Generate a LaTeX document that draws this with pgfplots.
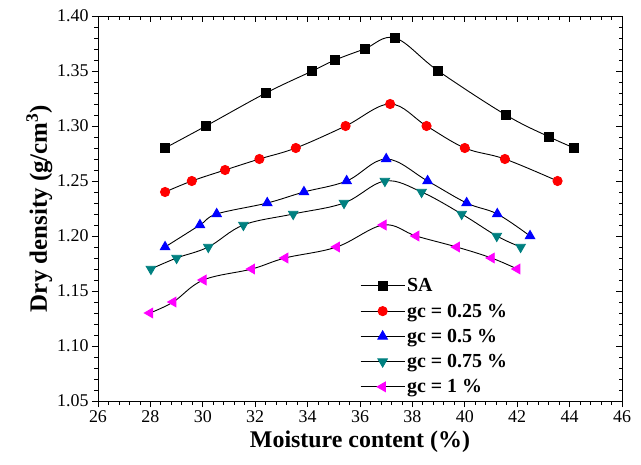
\documentclass[border=0pt]{standalone}
\usepackage{fontspec}
\setmainfont{Liberation Serif}
\usepackage{pgfplots}
\pgfplotsset{compat=1.18}

\definecolor{cteal}{RGB}{0,128,128}
\definecolor{cmag}{RGB}{255,0,255}

\pgfplotsset{
  frame/.style={
    width=524bp, height=385bp, scale only axis,
    xmin=26, xmax=46, ymin=1.05, ymax=1.40,
    xtick={26,28,...,46}, ytick={1.05,1.10,...,1.41},
    minor x tick num=4, minor y tick num=4,
    major tick length=6bp, minor tick length=3.5bp,
    axis line style={line width=0.9bp},
    every tick/.style={line width=0.8bp, black},
  },
}

\begin{document}
\begin{tikzpicture}
\useasboundingbox (-98bp,-64bp) rectangle (543bp,401bp);

% top/right ticks point inward, no labels
\begin{axis}[frame, tick align=inside,
  xtick pos=right, ytick pos=right,
  xticklabels={}, yticklabels={}]
\end{axis}

\begin{axis}[frame, tick align=outside,
  xtick pos=left, ytick pos=left,
  /pgf/number format/assume math mode=true,
  yticklabel style={/pgf/number format/.cd, fixed, fixed zerofill, precision=2},
  ticklabel style={font=\fontsize{18}{18}\selectfont},
  xlabel={\textbf{Moisture content (\%)}},
  ylabel={\textbf{Dry density (g/cm$^{\mathbf{3}}$)}},
  xlabel style={font=\fontsize{24}{24}\selectfont, yshift=-1bp},
  ylabel style={font=\fontsize{25}{25}\selectfont, yshift=-2bp},
  legend style={draw=none, fill=none, at={(0.5,0.012)}, anchor=south west,
    font=\bfseries\fontsize{20}{20}\selectfont, row sep=6.5bp,
    inner sep=0pt},
  legend cell align=left,
  legend image code/.code={
    \draw[black, line width=0.9bp] (0bp,0bp) -- (44bp,0bp);
    \draw plot[#1] coordinates {(22bp,0bp)};
  },
  every axis plot/.append style={black, line width=0.9bp, smooth, tension=0.6},
]

\addplot[mark=square*, mark size=4.5bp, mark options={draw=black, fill=black}] coordinates {
  (28.56,1.28) (30.12,1.30) (32.41,1.33) (34.18,1.35) (35.05,1.36)
  (36.17,1.37) (37.34,1.38) (38.99,1.35) (41.57,1.31) (43.23,1.29) (44.18,1.28)
};
\addlegendentry{SA}

\addplot[mark=*, mark size=4.6bp, mark options={draw=red, fill=red}] coordinates {
  (28.56,1.24) (29.58,1.25) (30.85,1.26) (32.16,1.27) (33.55,1.28)
  (35.45,1.30) (37.15,1.32) (38.54,1.30) (40.00,1.28) (41.53,1.27) (43.54,1.25)
};
\addlegendentry{gc = 0.25 \%}

\addplot[mark=triangle*, mark size=5.5bp, mark options={draw=blue, fill=blue}] coordinates {
  (28.56,1.19) (29.89,1.21) (30.53,1.22) (32.46,1.23) (33.86,1.24)
  (35.49,1.25) (37.00,1.27) (38.58,1.25) (40.07,1.23) (41.24,1.22) (42.49,1.20)
};
\addlegendentry{gc = 0.5 \%}

\addplot[mark=triangle*, mark size=5.5bp, mark options={draw=cteal, fill=cteal, rotate=180}] coordinates {
  (28.02,1.17) (29.00,1.18) (30.21,1.19) (31.55,1.21) (33.45,1.22)
  (35.39,1.23) (36.95,1.25) (38.35,1.24) (39.88,1.22) (41.22,1.20) (42.13,1.19)
};
\addlegendentry{gc = 0.75 \%}

\addplot[mark=triangle*, mark size=5.5bp, mark options={draw=cmag, fill=cmag, rotate=90}] coordinates {
  (27.98,1.13) (28.87,1.14) (30.02,1.16) (31.87,1.17) (33.14,1.18)
  (35.11,1.19) (36.89,1.21) (38.14,1.20) (39.69,1.19) (41.02,1.18) (42.00,1.17)
};
\addlegendentry{gc = 1 \%}

\end{axis}
\end{tikzpicture}
\end{document}
